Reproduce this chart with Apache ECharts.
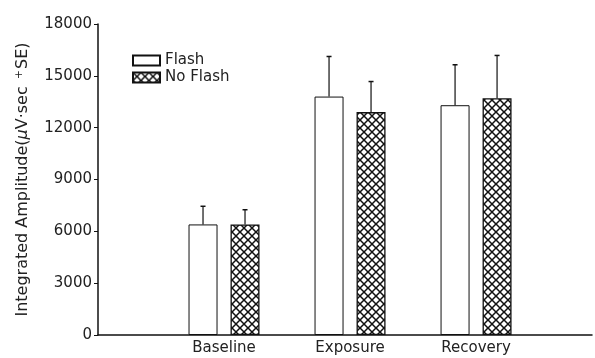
<!DOCTYPE html>
<html>
<head>
<meta charset="utf-8">
<script src="https://cdn.jsdelivr.net/npm/echarts@6/dist/echarts.min.js"></script>
<style>
html,body{margin:0;padding:0;background:#fff;}
#chart{width:595px;height:358px;}
</style>
</head>
<body>
<div id="chart"></div>
<script>
// ---- data ----
const categories = ['Baseline', 'Exposure', 'Recovery'];
const seriesNames = ['Flash', 'No Flash'];
const flash = [6400, 13800, 13300];
const flashSE = [1050, 2320, 2340];
const noFlash = [6400, 12900, 13700];
const noFlashSE = [850, 1770, 2480];
const yTicks = [0, 3000, 6000, 9000, 12000, 15000, 18000];

// ---- hatch pattern ----
function makeHatch() {
  const s = 8;
  const c = document.createElement('canvas');
  c.width = s; c.height = s;
  const g = c.getContext('2d');
  g.fillStyle = '#fff';
  g.fillRect(0, 0, s, s);
  g.strokeStyle = '#111';
  g.lineWidth = 1.5;
  g.beginPath();
  g.moveTo(-1, -1); g.lineTo(s + 1, s + 1);
  g.moveTo(s + 1, -1); g.lineTo(-1, s + 1);
  g.stroke();
  return c;
}
const hatch = { image: makeHatch(), repeat: 'repeat' };

const chart = echarts.init(document.getElementById('chart'), null, { renderer: 'canvas' });
const font = 'DejaVu Sans';
const BAR_W = 29, GAP = 13;
const off = (BAR_W + GAP) / 2;

function pts(vals) { return vals.map((v, i) => [i + 1, v]); }
function errData(vals, se) { return vals.map((v, i) => [i + 1, v, v + se[i]]); }
function errRender(sign) {
  return function (params, api) {
    const x = api.value(0);
    const p0 = api.coord([x, api.value(1)]);
    const p1 = api.coord([x, api.value(2)]);
    const cx = p0[0] + sign * off;
    return {
      type: 'group',
      children: [
        { type: 'line', shape: { x1: cx, y1: p0[1], x2: cx, y2: p1[1] }, style: { stroke: '#111', lineWidth: 1.2 } },
        { type: 'line', shape: { x1: cx - 2.5, y1: p1[1], x2: cx + 2.5, y2: p1[1] }, style: { stroke: '#111', lineWidth: 1.5 } }
      ]
    };
  };
}

chart.setOption({
  animation: false,
  backgroundColor: '#fff',
  textStyle: { fontFamily: font, color: '#222' },
  grid: { left: 98, right: 3, top: 24, bottom: 23, containLabel: false },
  legend: {
    orient: 'vertical',
    left: 132, top: 53, padding: 0,
    itemWidth: 27, itemHeight: 10, itemGap: 2,
    textStyle: { fontFamily: font, fontSize: 15, color: '#222' },
    data: seriesNames.map(n => ({ name: n, icon: 'rect' }))
  },
  xAxis: {
    type: 'value', min: 0, max: 3.92, interval: 1,
    splitLine: { show: false },
    axisLine: { show: true, lineStyle: { color: '#111', width: 1.5 } },
    axisTick: { show: false },
    axisLabel: {
      fontFamily: font, fontSize: 15, color: '#222', margin: 6,
      showMaxLabel: false,
      formatter: v => (Number.isInteger(v) && v >= 1 && v <= categories.length) ? categories[v - 1] : ''
    }
  },
  yAxis: {
    type: 'value', min: yTicks[0], max: yTicks[yTicks.length - 1], interval: 3000,
    splitLine: { show: false },
    axisLine: { show: true, lineStyle: { color: '#111', width: 1.5 } },
    axisTick: { show: true, length: 4, lineStyle: { color: '#111', width: 1 } },
    axisLabel: { fontFamily: font, fontSize: 15, color: '#222', margin: 6, formatter: v => String(v) },
    name: '{a|Integrated Amplitude(}{m|μ}{a|V·sec }{s|+}{a|SE)}',
    nameLocation: 'middle', nameGap: 67, nameRotate: 90,
    nameTextStyle: {
      rich: {
        a: { fontFamily: font, fontSize: 16, color: '#222' },
        m: { fontFamily: font, fontSize: 16, color: '#222', fontStyle: 'italic' },
        s: { fontFamily: font, fontSize: 11, color: '#222', verticalAlign: 'top', padding: [0, 1, 6, 2] }
      }
    }
  },
  series: [
    {
      name: seriesNames[0], type: 'bar', data: pts(flash),
      barWidth: BAR_W, barGap: (GAP / BAR_W * 100) + '%',
      itemStyle: { color: '#fff', borderColor: '#111', borderWidth: 1 }
    },
    {
      name: seriesNames[1], type: 'bar', data: pts(noFlash),
      barWidth: BAR_W, barGap: (GAP / BAR_W * 100) + '%',
      itemStyle: { color: hatch, borderColor: '#111', borderWidth: 1.3 }
    },
    {
      type: 'custom', name: 'errFlash', data: errData(flash, flashSE),
      renderItem: errRender(-1), z: 5, silent: true
    },
    {
      type: 'custom', name: 'errNoFlash', data: errData(noFlash, noFlashSE),
      renderItem: errRender(1), z: 5, silent: true
    }
  ]
});
</script>
</body>
</html>
